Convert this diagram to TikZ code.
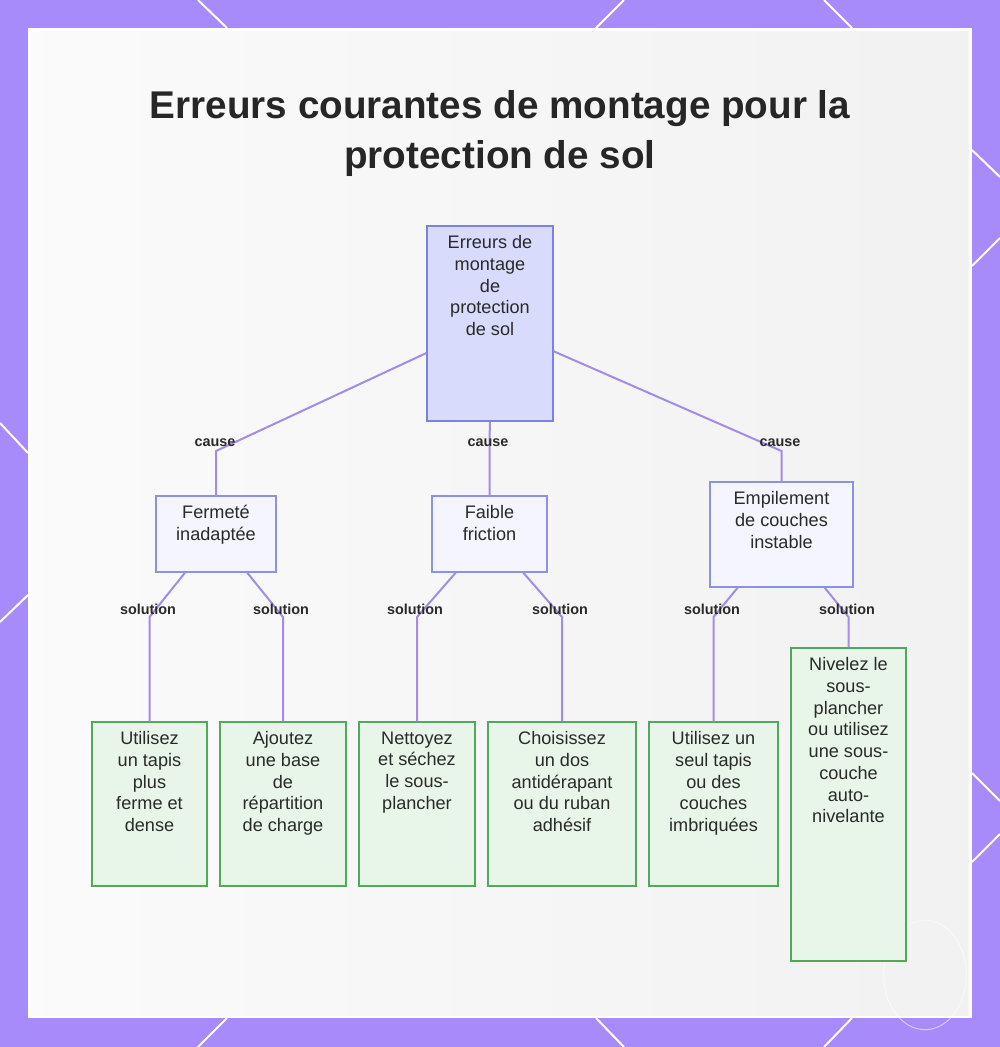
\documentclass[tikz,border=0pt]{standalone}
\usepackage{fontspec}
\setmainfont{Liberation Sans}
\definecolor{frame}{HTML}{A78BFA}
\definecolor{paper}{HTML}{F4F4F4}
\definecolor{ink}{HTML}{2A2A2A}
\definecolor{rootfill}{HTML}{D9DBFC}
\definecolor{rootline}{HTML}{7C83DB}
\definecolor{causefill}{HTML}{F4F5FE}
\definecolor{causeline}{HTML}{8A93E3}
\definecolor{solfill}{HTML}{E8F5E9}
\definecolor{solline}{HTML}{52A85C}
\definecolor{linkc}{HTML}{A48BE9}

% one pixel of the reference
\newdimen\pxu \pxu=0.75pt

\begin{document}
\begin{tikzpicture}[x=0.75pt,y=-0.75pt,
  every node/.style={text=ink,inner sep=2pt},
  box/.style={line width=1.5\pxu,inner sep=0pt},
  rootbox/.style={box,fill=rootfill,draw=rootline},
  causebox/.style={box,fill=causefill,draw=causeline},
  solbox/.style={box,fill=solfill,draw=solline},
  boxtext/.style={anchor=north,align=center,inner xsep=0pt,inner ysep=10\pxu,
    font=\fontsize{13.6}{16.3}\selectfont},
  tag/.style={font=\fontsize{10.8}{13}\selectfont\bfseries,inner sep=0pt},
  link/.style={draw=linkc,line width=2\pxu},
  deco/.style={white,line width=2\pxu}]
\useasboundingbox (0,0) rectangle (1000,1047);

% -------------------------------------------------------------------------
% Frame and panel.
% -------------------------------------------------------------------------
\fill[frame] (0,0) rectangle (1000,1047);
\draw[deco] (198,0) -- (227,28);   \draw[deco] (624,0) -- (596,28);
\draw[deco] (824,0) -- (852,28);
\draw[deco] (198,1047) -- (227,1018); \draw[deco] (624,1047) -- (596,1018);
\draw[deco] (824,1047) -- (852,1018);
\draw[deco] (0,423) -- (28,453);   \draw[deco] (0,622) -- (28,595);
\draw[deco] (1000,177) -- (972,150); \draw[deco] (1000,238) -- (972,266);
\draw[deco] (1000,801) -- (972,773); \draw[deco] (1000,834) -- (972,862);
\fill[white] (28,28) rectangle (972,1018);
\shade[left color=white!60!paper,right color=paper!90!gray!60]
  (31,31) rectangle (969,1015);
\draw[white,opacity=.55,line width=1\pxu] (925,975) ellipse [x radius=31pt,y radius=41pt];

\node[font=\fontsize{29}{37.5}\selectfont\bfseries,align=center,text=ink!90!black]
  (title) at (500,133) {Erreurs courantes de montage pour la\\protection de sol};

% -------------------------------------------------------------------------
% Boxes.
% -------------------------------------------------------------------------
\node[rootbox,minimum width=126\pxu,minimum height=195\pxu] (root) at (490,323.5) {};
\node[boxtext] (root-t) at (root.north) {Erreurs de\\montage\\de\\protection\\de sol};

\node[causebox,minimum width=120\pxu,minimum height=76\pxu] (ferm) at (216,534) {};
\node[boxtext] (ferm-t) at (ferm.north) {Fermeté\\inadaptée};
\node[causebox,minimum width=115\pxu,minimum height=76\pxu] (fric) at (489.5,534) {};
\node[boxtext] (fric-t) at (fric.north) {Faible\\friction};
\node[causebox,minimum width=143\pxu,minimum height=105\pxu] (empi) at (781.5,534.5) {};
\node[boxtext] (empi-t) at (empi.north) {Empilement\\de couches\\instable};

\node[solbox,minimum width=115\pxu,minimum height=164\pxu] (tapis) at (149.5,804) {};
\node[boxtext] (tapis-t) at (tapis.north) {Utilisez\\un tapis\\plus\\ferme et\\dense};
\node[solbox,minimum width=126\pxu,minimum height=164\pxu] (base) at (283,804) {};
\node[boxtext] (base-t) at (base.north) {Ajoutez\\une base\\de\\répartition\\de charge};
\node[solbox,minimum width=116\pxu,minimum height=164\pxu] (nett) at (417,804) {};
\node[boxtext] (nett-t) at (nett.north) {Nettoyez\\et séchez\\le sous-\\plancher};
\node[solbox,minimum width=148\pxu,minimum height=164\pxu] (dos) at (562,804) {};
\node[boxtext] (dos-t) at (dos.north) {Choisissez\\un dos\\antidérapant\\ou du ruban\\adhésif};
\node[solbox,minimum width=129\pxu,minimum height=164\pxu] (seul) at (713.5,804) {};
\node[boxtext] (seul-t) at (seul.north) {Utilisez un\\seul tapis\\ou des\\couches\\imbriquées};
\node[solbox,minimum width=115\pxu,minimum height=313\pxu] (nive) at (848.5,804.5) {};
\node[boxtext] (nive-t) at (nive.north)
  {Nivelez le\\sous-\\plancher\\ou utilisez\\une sous-\\couche\\auto-\\nivelante};

% -------------------------------------------------------------------------
% Links with their labels.
% -------------------------------------------------------------------------
\coordinate (ferm-k) at (216,451);
\coordinate (empi-k) at (781.5,451);
\draw[link] (root) -- (ferm-k) -- (ferm);
\draw[link] (root) -- (fric);
\draw[link] (root) -- (empi-k) -- (empi);
\node[tag] (ferm-l) at (215,443) {cause};
\node[tag] (fric-l) at (488,443) {cause};
\node[tag] (empi-l) at (780,443) {cause};

\coordinate (tapis-k) at (149.5,617);
\coordinate (base-k)  at (283,617);
\coordinate (nett-k)  at (417,617);
\coordinate (dos-k)   at (562,617);
\coordinate (seul-k)  at (713.5,617);
\coordinate (nive-k)  at (848.5,617);
\draw[link] (ferm) -- (tapis-k) -- (tapis);
\draw[link] (ferm) -- (base-k) -- (base);
\draw[link] (fric) -- (nett-k) -- (nett);
\draw[link] (fric) -- (dos-k) -- (dos);
\draw[link] (empi) -- (seul-k) -- (seul);
\draw[link] (empi) -- (nive-k) -- (nive);
\node[tag] (tapis-l) at (148,609) {solution};
\node[tag] (base-l)  at (281,609) {solution};
\node[tag] (nett-l)  at (415,609) {solution};
\node[tag] (dos-l)   at (560,609) {solution};
\node[tag] (seul-l)  at (712,609) {solution};
\node[tag] (nive-l)  at (847,609) {solution};
\end{tikzpicture}
\end{document}
